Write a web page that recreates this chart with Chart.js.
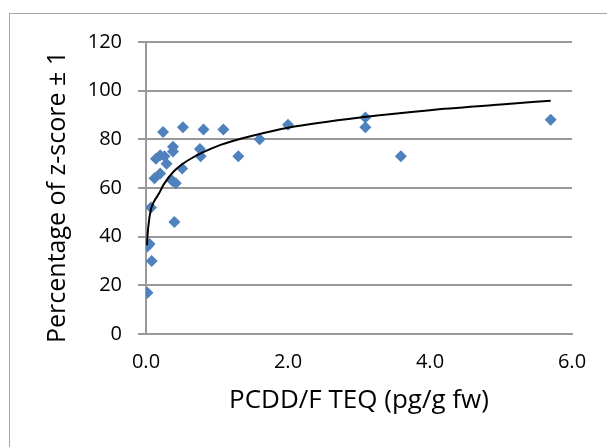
<!DOCTYPE html>
<html>
<head>
<meta charset="utf-8">
<script src="https://cdn.jsdelivr.net/npm/chart.js@4"></script>
<style>
html, body { margin: 0; padding: 0; background: #fff; overflow: hidden; }
#wrap { position: relative; width: 607px; height: 447px; overflow: hidden; }
#frame { position: absolute; left: 9px; top: 13px; width: 700px; height: 600px; border: 1px solid #a6a6a6; }
canvas { position: absolute; left: 0; top: 0; }
</style>
</head>
<body>
<div id="wrap">
  <div id="frame"></div>
  <canvas id="chart" width="607" height="447"></canvas>
</div>
<script>
// measured samples: PCDD/F TEQ vs percentage of z-score within +-1
const teq = [0.02, 0.05, 0.02, 0.08, 0.07, 0.40, 0.12, 0.20, 0.14, 0.20, 0.26, 0.29, 0.24, 0.37, 0.42,
             0.38, 0.38, 0.51, 0.52, 0.76, 0.77, 0.81, 1.09, 1.30, 1.60, 2.00, 3.09, 3.09, 3.59, 5.70];
const pct = [17, 37, 36, 30, 52, 46, 64, 66, 72, 73.5, 73, 70, 83, 63, 62,
             77, 75, 68, 85, 76, 73, 84, 84, 73, 80, 86, 89, 85, 73, 88];

// logarithmic trend line
const trendTeq = [0.014, 0.02, 0.05, 0.075, 0.11, 0.18, 0.25, 0.39, 0.6, 1.05, 1.5, 2.0, 3.1, 4.0, 5.0, 5.7];
const trendPct = [36.5, 40, 48.2, 51.8, 54.3, 57.6, 61.5, 66.8, 71.5, 77.7, 81.5, 84.8, 89.3, 92, 94.3, 95.9];

const xTitle = "PCDD/F TEQ (pg/g fw)";
const yTitle = "Percentage of z-score \u00b1 1";

const font = '"Open Sans", "Liberation Sans", sans-serif';
const gridColor = "#999999";

const yTitlePlugin = {
    id: "yTitlePlugin",
    afterDraw(chart) {
        const ctx = chart.ctx;
        ctx.save();
        ctx.translate(58, 197);
        ctx.rotate(-Math.PI / 2);
        ctx.font = "25px " + font;
        ctx.fillStyle = "#000";
        ctx.textAlign = "center";
        ctx.textBaseline = "middle";
        ctx.fillText(yTitle, 0, 0);
        ctx.restore();
    }
};

new Chart(document.getElementById("chart"), {
    type: "scatter",
    data: {
        datasets: [
            {
                type: "line",
                data: trendTeq.map((x, i) => ({ x: x, y: trendPct[i] })),
                borderColor: "#000",
                borderWidth: 2,
                pointRadius: 0,
                fill: false,
                cubicInterpolationMode: "monotone",
                order: 1
            },
            {
                data: teq.map((x, i) => ({ x: x, y: pct[i] })),
                pointStyle: "rectRot",
                pointRadius: 6,
                backgroundColor: "#4f81bd",
                borderColor: "#4f81bd",
                borderWidth: 0,
                order: 2
            }
        ]
    },
    options: {
        responsive: false,
        animation: false,
        devicePixelRatio: 1,
        layout: { padding: { top: 42, right: 35, left: 0, bottom: 0 } },
        plugins: { legend: { display: false }, tooltip: { enabled: false } },
        scales: {
            x: {
                type: "linear",
                min: 0, max: 6,
                afterFit: (s) => { s.height = 113; },
                ticks: { stepSize: 2, color: "#000", padding: 9, font: { family: font, size: 20 },
                         callback: (v) => v.toFixed(1) },
                grid: { display: false, drawTicks: true, tickLength: 7, tickColor: gridColor },
                border: { color: gridColor, width: 2 },
                title: { display: true, text: xTitle, color: "#000", font: { family: font, size: 26 },
                         padding: { bottom: 31 } }
            },
            y: {
                type: "linear",
                min: 0, max: 120,
                afterFit: (s) => { s.width = 146; },
                ticks: { stepSize: 20, color: "#000", padding: 16, font: { family: font, size: 20 } },
                grid: { color: gridColor, lineWidth: 2, tickLength: 8 },
                border: { color: gridColor, width: 2 }
            }
        }
    },
    plugins: [yTitlePlugin]
});
</script>
</body>
</html>
